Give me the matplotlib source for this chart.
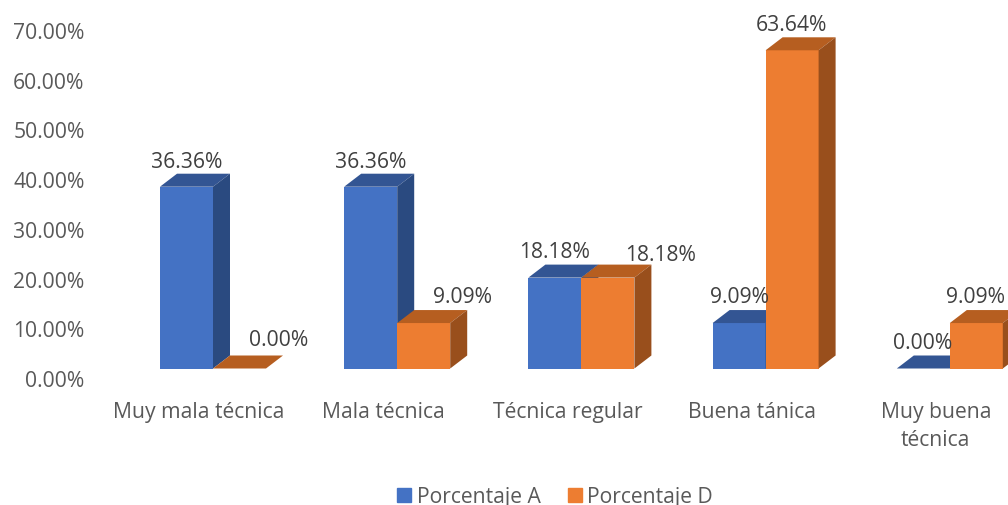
import matplotlib
matplotlib.use("Agg")
import matplotlib.pyplot as plt
from matplotlib.patches import Patch

categories = ["Muy mala técnica", "Mala técnica", "Técnica regular", "Buena tánica", "Muy buena\ntécnica"]
porcentaje_a = [36.36, 36.36, 18.18, 9.09, 0.00]
porcentaje_d = [0.00, 9.09, 18.18, 63.64, 9.09]
y_ticks = [0, 10, 20, 30, 40, 50, 60, 70]

W, H = 1008, 506
plt.rcParams["font.family"] = ["Open Sans", "DejaVu Sans"]
FS = 15.2

fig = plt.figure(figsize=(W / 100, H / 100), dpi=100)

# plot area runs from the top of the image down to the floor line
floor = 369.5
ax = fig.add_axes([0, (H - floor) / H, 1, floor / H])
step = 184.2
ax.set_xlim(-213 / step, (W - 213) / step)
ax.set_ylim(0, floor / 5.0)
for s in ax.spines.values():
    s.set_visible(False)

bar_w = 53 / step
dx = 17 / step
dy = 13 / 5.0


def bar3d(x0, val, front, top, side):
    x1 = x0 + bar_w
    ax.bar(x0, val, width=bar_w, align="edge", color=front, zorder=3)
    ax.fill([x0, x1, x1 + dx, x0 + dx], [val, val, val + dy, val + dy], color=top, lw=0, zorder=3)
    ax.fill([x1, x1 + dx, x1 + dx, x1], [0, dy, val + dy, val], color=side, lw=0, zorder=3)


for i in range(len(categories)):
    bar3d(i - bar_w, porcentaje_a[i], "#4472C4", "#335593", "#2A4A80")
    bar3d(i, porcentaje_d[i], "#ED7D31", "#B65E20", "#994F1C")

# label nudges in pixels, relative to the centre of the bar front
nudge_a = [(0, 12), (0, 12), (0, 13), (0, 14), (-1, 13)]
nudge_d = [(39, 16), (39, 14), (53, 10), (-1, 13), (-1, 14)]
for i in range(len(categories)):
    for vals, nudges, x0 in ((porcentaje_a, nudge_a, i - bar_w / 2), (porcentaje_d, nudge_d, i + bar_w / 2)):
        ax.annotate(f"{vals[i]:.2f}%", (x0, vals[i] + dy), xytext=(nudges[i][0] * 0.72, nudges[i][1] * 0.72),
                    textcoords="offset points", ha="center", va="center",
                    fontsize=FS, color="#404040", zorder=5, annotation_clip=False)

# category labels sit left of the bar pair because of the 3D depth
ax.set_xticks([i - 14 / step for i in range(len(categories))])
ax.set_xticklabels(categories, fontsize=FS, color="#595959", linespacing=1.42, va="top")
ax.tick_params(axis="x", length=0, pad=23.5)
ax.set_yticks([])

# y labels have their own scale, they are offset from the floor line
ax2 = fig.add_axes([86 / W, (H - 379) / H, 1 / W, 348 / H])
ax2.set_ylim(0, 70)
ax2.set_yticks(y_ticks)
ax2.set_yticklabels([f"{t:.2f}%" for t in y_ticks], fontsize=FS, color="#595959")
ax2.tick_params(axis="y", length=0, pad=1)
ax2.set_xticks([])
ax2.patch.set_visible(False)
for s in ax2.spines.values():
    s.set_visible(False)

handles = [Patch(color="#4472C4", label="Porcentaje A"), Patch(color="#ED7D31", label="Porcentaje D")]
fig.legend(handles=handles, loc="center", bbox_to_anchor=(555 / W, (H - 498) / H), ncol=2, frameon=False,
           fontsize=FS, labelcolor="#595959", handlelength=0.66, handleheight=0.66,
           handletextpad=0.28, columnspacing=1.28, borderpad=0, borderaxespad=0)

fig.savefig("out.png", dpi=100)
